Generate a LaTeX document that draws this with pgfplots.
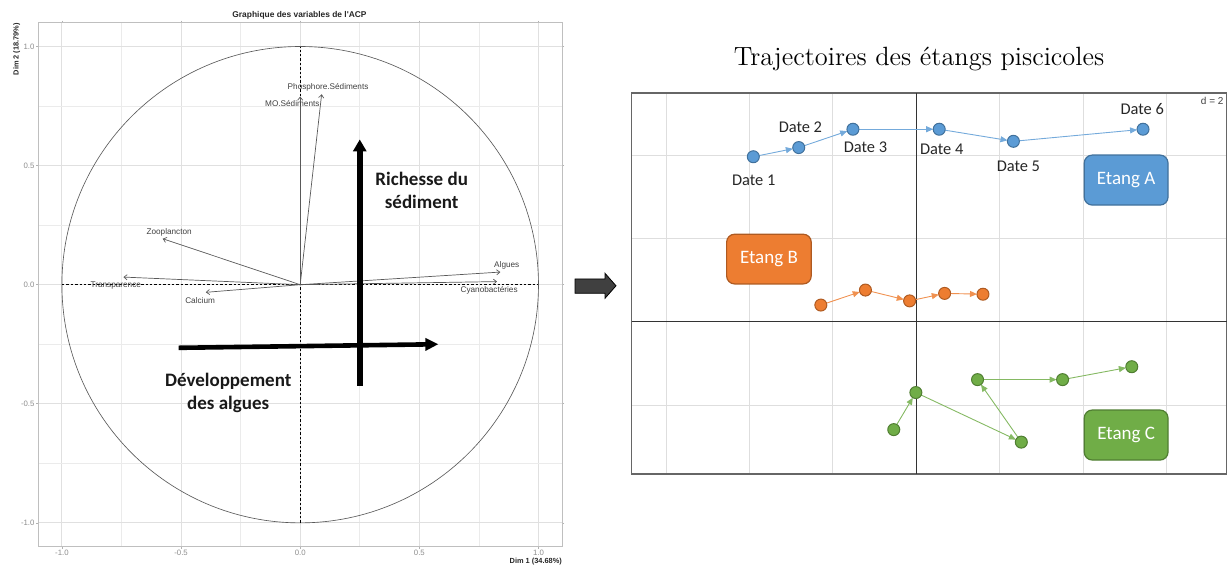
\documentclass[border=0pt]{standalone}
\usepackage{fontspec}
\usepackage{pgfplots}
\pgfplotsset{compat=1.18}
\usetikzlibrary{arrows.meta}
\newfontfamily\arial{Liberation Sans}
\newfontfamily\calibri{Carlito}
\definecolor{bluA}{HTML}{5B9BD5}
\definecolor{bluAd}{HTML}{41719C}
\definecolor{orB}{HTML}{ED7D31}
\definecolor{orBd}{HTML}{AE5A21}
\definecolor{grC}{HTML}{70AD47}
\definecolor{grCd}{HTML}{507E32}
\begin{document}
\begin{tikzpicture}[x=1pt,y=1pt]
\useasboundingbox (0,0) rectangle (614,283.5);
% ---------------- left: PCA variables ----------------
\begin{axis}[
  at={(19.05pt,10.15pt)}, anchor=south west,
  width=262.1pt, height=262pt, scale only axis,
  xmin=-1.1, xmax=1.1, ymin=-1.1, ymax=1.1,
  xtick={-1,-0.5,0,0.5,1}, ytick={-1,-0.5,0,0.5,1},
  xticklabels={-1.0,-0.5,0.0,0.5,1.0}, yticklabels={-1.0,-0.5,0.0,0.5,1.0},
  minor xtick={-0.75,-0.25,0.25,0.75}, minor ytick={-0.75,-0.25,0.25,0.75},
  grid=both,
  major grid style={draw=black!12, line width=0.5pt},
  minor grid style={draw=black!8, line width=0.4pt},
  axis line style={draw=black!25, line width=0.5pt},
  tick align=outside, major tick length=1pt, minor tick length=0pt,
  tick style={draw=black!30, line width=0.3pt},
  ticklabel style={font=\arial\fontsize{3.9}{4.5}\selectfont, text=black!45, inner sep=0.6pt},
]
\draw[black!65, line width=0.32pt] (axis cs:0,0) circle[radius=1];
\addplot[black, line width=0.3pt, dashed, dash pattern=on 1.2pt off 1pt] coordinates {(-1,0)(1,0)};
\addplot[black, line width=0.3pt, dashed, dash pattern=on 1.2pt off 1pt] coordinates {(0,-1)(0,1)};
% variable arrows
\pgfplotsset{varr/.style={black!65, line width=0.35pt, -{Straight Barb[length=1.6pt,width=2.6pt]}}}
\addplot[varr] coordinates {(0,0)(0.09,0.80)};
\addplot[varr] coordinates {(0,0)(0,0.79)};
\addplot[varr] coordinates {(0,0)(-0.577,0.193)};
\addplot[varr] coordinates {(0,0)(-0.742,0.032)};
\addplot[varr] coordinates {(0,0)(-0.396,-0.032)};
\addplot[varr] coordinates {(0,0)(0.84,0.053)};
\addplot[varr] coordinates {(0,0)(0.826,0.013)};
\begin{scope}[every node/.style={font=\arial\fontsize{4.1}{5}\selectfont, text=black!75, inner sep=0pt}]
\node at (axis cs:0.117,0.827) {Phosphore.Sédiments};
\node at (axis cs:-0.033,0.76) {MO.Sédiments};
\node at (axis cs:-0.55,0.22) {Zooplancton};
\node at (axis cs:-0.774,-0.003) {Transparence};
\node at (axis cs:-0.42,-0.067) {Calcium};
\node at (axis cs:0.867,0.08) {Algues};
\node at (axis cs:0.793,-0.025) {Cyanobactéries};
\end{scope}
% thick interpretation arrows
\addplot[black, line width=2.9pt, -{Triangle[length=6pt,width=6.5pt]}] coordinates {(0.25,-0.425)(0.25,0.61)};
\addplot[black, line width=2.3pt, -{Triangle[length=6.5pt,width=6pt]}] coordinates {(-0.51,-0.265)(0.58,-0.25)};
\node[font=\calibri\bfseries\fontsize{9.5}{11.4}\selectfont, align=center, text=black!90] at (axis cs:0.51,0.396) {Richesse du\\sédiment};
\node[font=\calibri\bfseries\fontsize{9.5}{11.4}\selectfont, align=center, text=black!90] at (axis cs:-0.302,-0.456) {Développement\\des algues};
\end{axis}
\node[font=\arial\bfseries\fontsize{4.2}{5}\selectfont, text=black!85] at (149.75,276) {Graphique des variables de l'ACP};
\node[rotate=90, anchor=east, font=\arial\bfseries\fontsize{3.7}{4.4}\selectfont, inner sep=0pt, text=black!85] at (8.35,272.2) {Dim 2 (18.79\%)};
\node[anchor=east, font=\arial\bfseries\fontsize{3.7}{4.4}\selectfont, inner sep=0pt, text=black!85] at (281.15,2.6) {Dim 1 (34.68\%)};
% ---------------- block arrow ----------------
\filldraw[fill=black!75, draw=black, line width=0.4pt] (287.5,136.85) -- (302.5,136.85) -- (302.5,134.35) -- (308,140.6) -- (302.5,146.85) -- (302.5,144) -- (287.5,144) -- cycle;
% ---------------- right: trajectories ----------------
\node[font=\fontsize{13.2}{15.8}\selectfont] at (459.5,253.8) {Trajectoires des étangs piscicoles};
\begin{axis}[
  at={(315.8pt,46.5pt)}, anchor=south west,
  width=297.6pt, height=190.5pt, scale only axis,
  xmin=-6.83, xmax=7.45, ymin=-3.655, ymax=5.49,
  xtick={-6,-4,-2,0,2,4,6}, ytick={-2,0,2,4},
  xticklabels={}, yticklabels={},
  grid=major, major grid style={draw=black!13, line width=0.5pt},
  major tick length=0pt,
  axis line style={draw=black!60, line width=0.6pt},
]
\addplot[black!80, line width=0.5pt] coordinates {(-6.83,0)(7.45,0)};
\addplot[black!80, line width=0.5pt] coordinates {(0,-3.655)(0,5.49)};
% trajectories (arrows between successive dates)
\addplot[bluA!85, line width=0.45pt, -{Triangle[length=3.5pt,width=3pt]}, shorten >=3pt,
  quiver={u=\thisrow{u}, v=\thisrow{v}}] table {
x y u v
-3.91 3.96 1.09 0.22
-2.82 4.18 1.30 0.44
-1.52 4.62 2.07 0.00
0.55 4.62 1.78 -0.29
2.33 4.33 3.11 0.29
};
\addplot[orB!85, line width=0.45pt, -{Triangle[length=3.5pt,width=3pt]}, shorten >=3pt,
  quiver={u=\thisrow{u}, v=\thisrow{v}}] table {
x y u v
-2.29 0.40 1.07 0.36
-1.22 0.76 1.06 -0.26
-0.16 0.50 0.84 0.18
0.68 0.68 0.92 -0.02
};
\addplot[grC!85, line width=0.45pt, -{Triangle[length=3.5pt,width=3pt]}, shorten >=3pt,
  quiver={u=\thisrow{u}, v=\thisrow{v}}] table {
x y u v
-0.54 -2.59 0.53 0.89
-0.01 -1.70 2.53 -1.19
2.52 -2.89 -1.05 1.50
1.47 -1.39 2.04 0.00
3.51 -1.39 1.66 0.31
};
% dates
\addplot[only marks, mark=*, mark size=3pt, mark options={fill=bluA, draw=bluAd, line width=0.5pt}] coordinates {
(-3.91,3.96) (-2.82,4.18) (-1.52,4.62) (0.55,4.62) (2.33,4.33) (5.44,4.62)};
\addplot[only marks, mark=*, mark size=3pt, mark options={fill=orB, draw=orBd, line width=0.5pt}] coordinates {
(-2.29,0.40) (-1.22,0.76) (-0.16,0.50) (0.68,0.68) (1.60,0.66)};
\addplot[only marks, mark=*, mark size=3pt, mark options={fill=grC, draw=grCd, line width=0.5pt}] coordinates {
(-0.54,-2.59) (-0.01,-1.70) (2.52,-2.89) (1.47,-1.39) (3.51,-1.39) (5.17,-1.08)};
\begin{scope}[every node/.style={font=\calibri\fontsize{8.2}{9.8}\selectfont, text=black!85, inner sep=0pt}]
\node at (axis cs:-3.90,3.39) {Date 1};
\node at (axis cs:-2.78,4.66) {Date 2};
\node at (axis cs:-1.22,4.19) {Date 3};
\node at (axis cs:0.61,4.14) {Date 4};
\node at (axis cs:2.45,3.72) {Date 5};
\node at (axis cs:5.42,5.10) {Date 6};
\end{scope}
\draw[fill=bluA, draw=bluAd, line width=0.6pt, rounded corners=4pt] (axis cs:4.03,2.80) rectangle (axis cs:6.04,4.0);
\node[font=\calibri\fontsize{9.5}{11}\selectfont, text=white] at (axis cs:5.035,3.40) {Etang A};
\draw[fill=orB, draw=orBd, line width=0.6pt, rounded corners=4pt] (axis cs:-4.55,0.907) rectangle (axis cs:-2.52,2.10);
\node[font=\calibri\fontsize{9.5}{11}\selectfont, text=white] at (axis cs:-3.535,1.50) {Etang B};
\draw[fill=grC, draw=grCd, line width=0.6pt, rounded corners=4pt] (axis cs:4.03,-3.32) rectangle (axis cs:6.04,-2.12);
\node[font=\calibri\fontsize{9.5}{11}\selectfont, text=white] at (axis cs:5.035,-2.72) {Etang C};
\node[font=\arial\fontsize{5}{6}\selectfont, text=black!75] at (axis cs:7.1,5.30) {d = 2};
\end{axis}
\end{tikzpicture}
\end{document}
